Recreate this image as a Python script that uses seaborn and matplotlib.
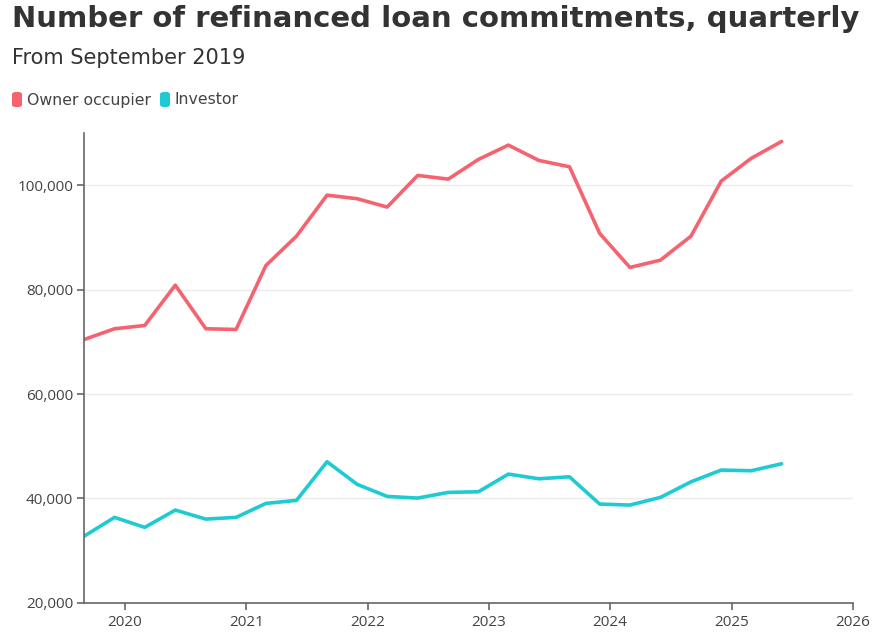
import pandas as pd
import numpy as np
import matplotlib
matplotlib.use("Agg")
import matplotlib.pyplot as plt
import matplotlib.dates as mdates
from matplotlib.patches import FancyBboxPatch
import seaborn as sns

quarters = ["2019-09-01", "2019-12-01", "2020-03-01", "2020-06-01", "2020-09-01", "2020-12-01",
            "2021-03-01", "2021-06-01", "2021-09-01", "2021-12-01", "2022-03-01", "2022-06-01",
            "2022-09-01", "2022-12-01", "2023-03-01", "2023-06-01", "2023-09-01", "2023-12-01",
            "2024-03-01", "2024-06-01", "2024-09-01", "2024-12-01", "2025-03-01", "2025-06-01"]
owner_occupier = [70470, 72520, 73150, 80880, 72520, 72390, 84660, 90280, 98140, 97450, 95850, 101920,
                  101210, 104990, 107730, 104790, 103580, 90800, 84280, 85680, 90280, 100830, 105180, 108440]
investor = [32770, 36360, 34440, 37760, 36030, 36360, 39040, 39620, 47020, 42680, 40380, 40060,
            41150, 41270, 44660, 43760, 44140, 38910, 38720, 40190, 43180, 45430, 45300, 46640]
series_names = ["Owner occupier", "Investor"]
colors = {"Owner occupier": "#F4636F", "Investor": "#1ECBD3"}
y_ticks = [20000, 40000, 60000, 80000, 100000]

df = pd.DataFrame({"date": pd.to_datetime(quarters),
                   "Owner occupier": owner_occupier,
                   "Investor": investor})
long = df.melt(id_vars="date", value_vars=series_names, var_name="series", value_name="value")

sns.set_theme(style="white")
plt.rcParams["font.family"] = ["Open Sans", "DejaVu Sans"]

fig = plt.figure(figsize=(8.8, 6.39), dpi=100)
ax = fig.add_axes([0.0958, 0.0568, 0.8732, 0.7352])

sns.lineplot(data=long, x="date", y="value", hue="series", hue_order=series_names,
             palette=colors, linewidth=2.6, ax=ax, legend=False)

ax.set_xlim(pd.Timestamp("2019-09-01"), pd.Timestamp("2026-01-01"))
ax.set_ylim(20000, 110070)
ax.xaxis.set_major_locator(mdates.YearLocator())
ax.xaxis.set_major_formatter(mdates.DateFormatter("%Y"))
ax.set_yticks(y_ticks)
ax.set_yticklabels([f"{v:,}" for v in y_ticks])
ax.set_xlabel("")
ax.set_ylabel("")
for v in y_ticks[1:]:
    ax.axhline(v, color="#ebebeb", linewidth=1, zorder=0)

for s in ["top", "right"]:
    ax.spines[s].set_visible(False)
for s in ["left", "bottom"]:
    ax.spines[s].set_color("#666666")
    ax.spines[s].set_linewidth(1.2)
ax.tick_params(axis="both", colors="#666666", labelcolor="#444444", labelsize=11,
               length=5, width=1.2, direction="out", left=True, bottom=True)
ax.tick_params(axis="y", pad=3)
ax.tick_params(axis="x", pad=4)

fig.text(12/880, 1 - 5/639, "Number of refinanced loan commitments, quarterly",
         fontsize=21, fontweight="bold", color="#333333", va="top", ha="left",
         family=["DejaVu Sans"])
fig.text(12/880, 1 - 48/639, "From September 2019", fontsize=15, color="#333333",
         va="top", ha="left", family=["DejaVu Sans"])

# legend
for name, tx in [("Owner occupier", 12), ("Investor", 160)]:
    box = FancyBboxPatch((tx/880, 1 - 107/639), 10/880, 15/639,
                         boxstyle="round,pad=0,rounding_size=0.004",
                         transform=fig.transFigure, facecolor=colors[name],
                         edgecolor="none")
    fig.patches.append(box)
    fig.text((tx + 15)/880, 1 - 100/639, name, fontsize=11.3, color="#444444",
             va="center", ha="left", family=["DejaVu Sans"])

fig.savefig("out.png", dpi=100)
